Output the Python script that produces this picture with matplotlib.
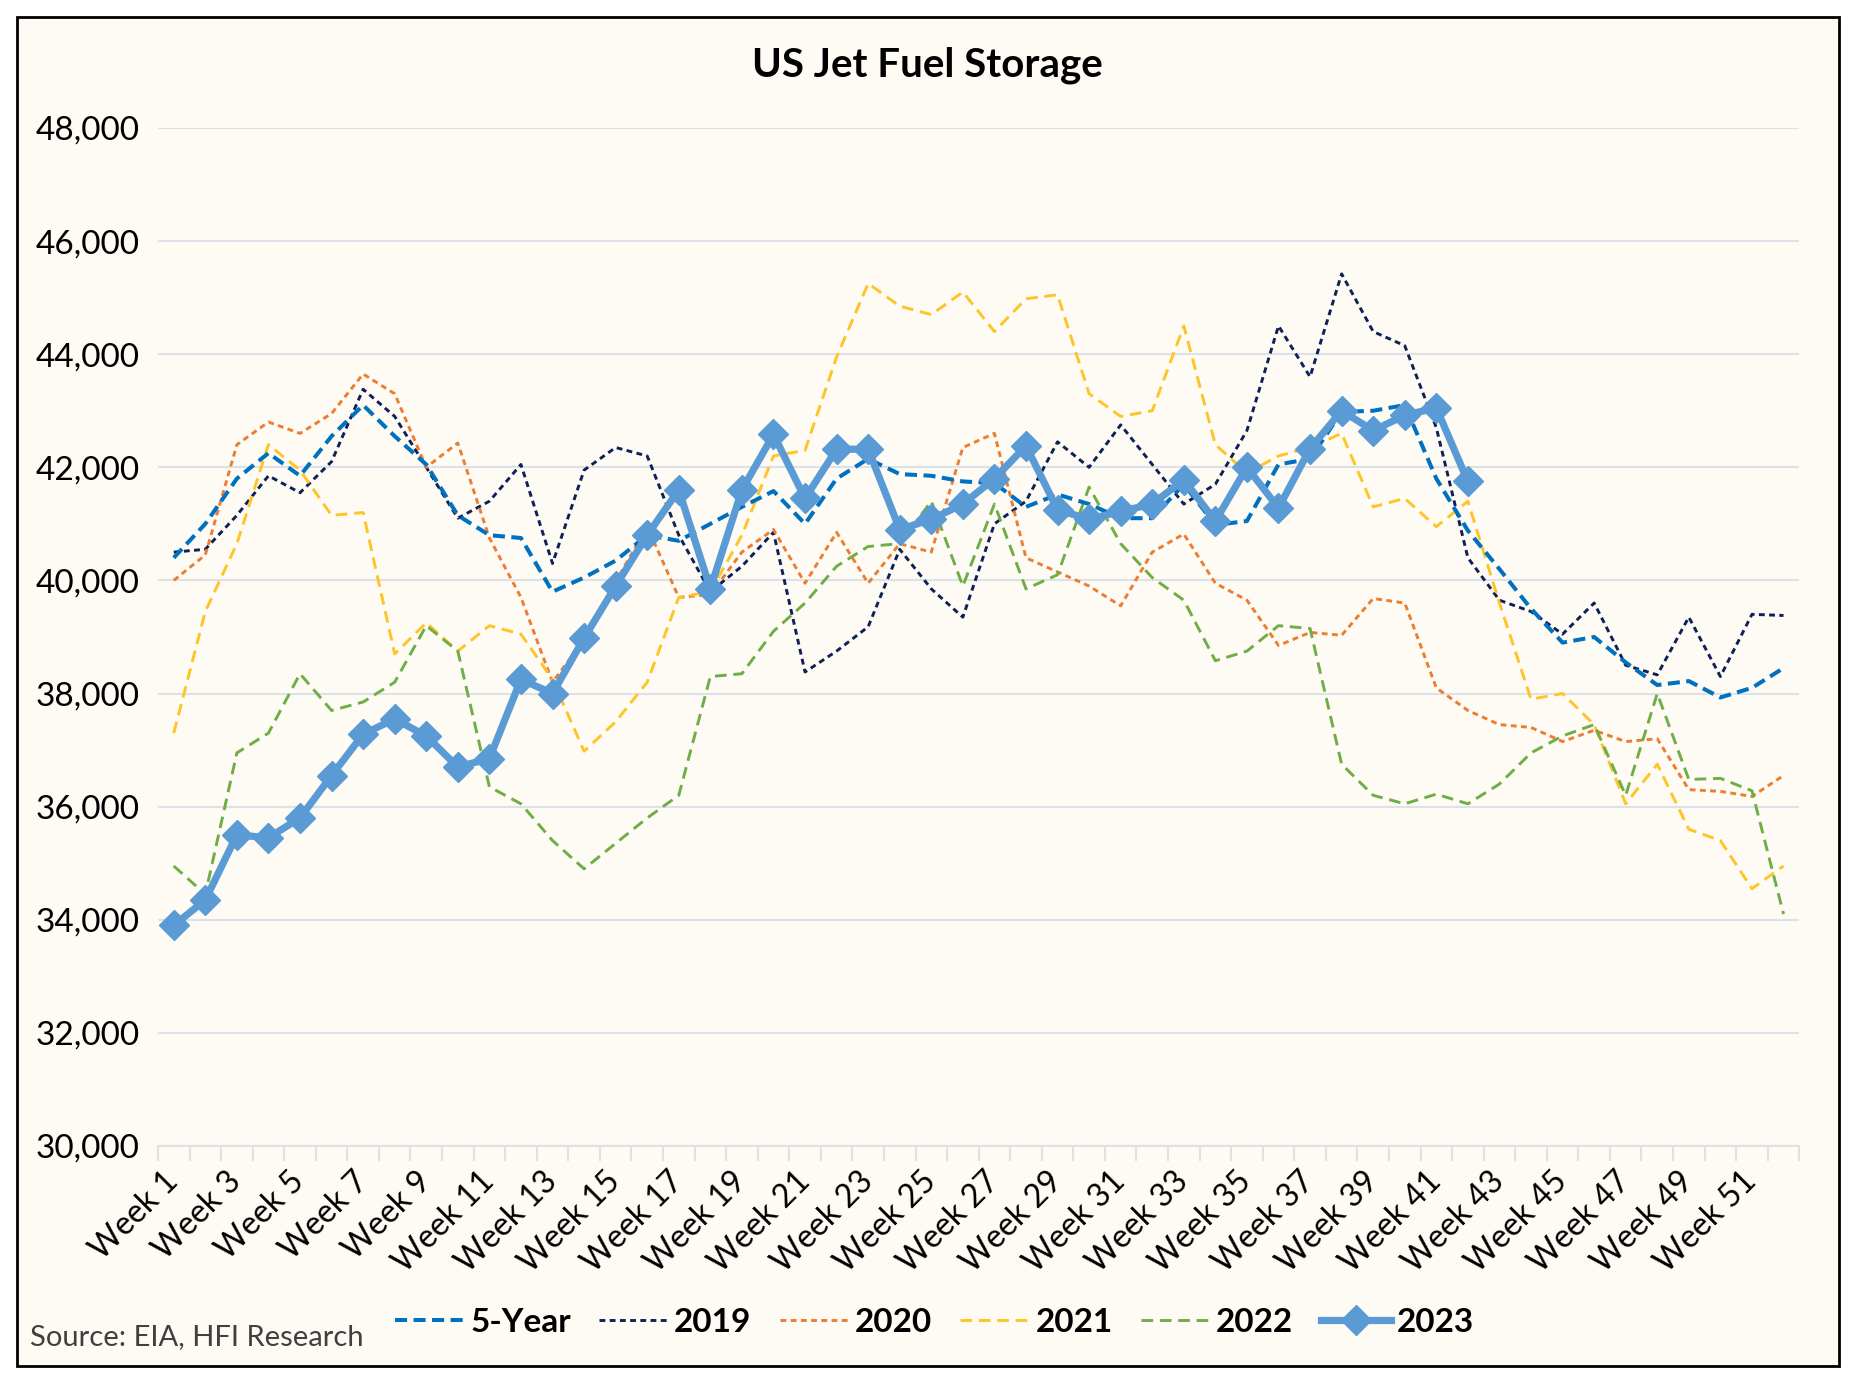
import matplotlib
matplotlib.use("Agg")
import matplotlib.pyplot as plt
from matplotlib.patches import Rectangle
from matplotlib.ticker import FuncFormatter

plt.rcParams['font.family'] = ['Lato', 'DejaVu Sans']

# weekly jet fuel stocks, thousand barrels
weeks = list(range(1, 53))

five_year = [40400, 41000, 41800, 42250, 41850, 42550, 43100, 42550, 42050, 41150,
             40800, 40750, 39800, 40050, 40350, 40800, 40700, 41000, 41300, 41580,
             41000, 41800, 42150, 41880, 41850, 41750, 41720, 41300, 41520, 41350,
             41100, 41100, 41700, 40980, 41050, 42050, 42150, 42980, 43000, 43100,
             41800, 40880, 40200, 39500, 38900, 39000, 38550, 38150, 38220, 37930,
             38100, 38450]

y2019 = [40500, 40550, 41150, 41850, 41550, 42100, 43380, 42900, 42000, 41100,
         41400, 42050, 40300, 41950, 42350, 42200, 40800, 39800, 40250, 40850,
         38380, 38750, 39180, 40550, 39850, 39350, 41000, 41400, 42450, 42000,
         42750, 42050, 41350, 41700, 42650, 44500, 43600, 45420, 44400, 44150,
         42700, 40400, 39650, 39450, 39050, 39600, 38500, 38330, 39350, 38300,
         39400, 39380]

y2020 = [40000, 40450, 42400, 42800, 42600, 42950, 43650, 43300, 42000, 42430,
         40750, 39700, 38200, 38950, 39980, 40950, 39700, 39750, 40500, 40900,
         39950, 40850, 39950, 40650, 40500, 42350, 42600, 40400, 40150, 39900,
         39550, 40500, 40820, 39950, 39650, 38850, 39080, 39030, 39680, 39600,
         38100, 37700, 37450, 37400, 37150, 37350, 37150, 37200, 36300, 36270,
         36180, 36550]

y2021 = [37300, 39450, 40650, 42400, 41950, 41150, 41200, 38700, 39250, 38750,
         39200, 39050, 38250, 36980, 37500, 38200, 39700, 39800, 40800, 42200,
         42300, 43950, 45250, 44850, 44700, 45100, 44400, 44980, 45050, 43300,
         42900, 43000, 44500, 42400, 41900, 42200, 42350, 42600, 41300, 41450,
         40950, 41400, 39600, 37900, 38000, 37450, 36050, 36750, 35600, 35400,
         34550, 34950]

y2022 = [34950, 34450, 36950, 37300, 38350, 37700, 37850, 38200, 39200, 38750,
         36350, 36050, 35400, 34900, 35350, 35800, 36200, 38300, 38350, 39100,
         39600, 40250, 40600, 40650, 41400, 39900, 41350, 39850, 40100, 41650,
         40650, 40050, 39650, 38580, 38750, 39200, 39150, 36750, 36200, 36050,
         36220, 36050, 36400, 36950, 37250, 37450, 36200, 38000, 36480, 36500,
         36280, 34100]

y2023 = [33900, 34350, 35500, 35450, 35800, 36550, 37280, 37550, 37250, 36700,
         36850, 38250, 38000, 38980, 39900, 40800, 41600, 39850, 41600, 42580,
         41450, 42320, 42320, 40900, 41080, 41350, 41800, 42380, 41250, 41080,
         41220, 41350, 41780, 41050, 42000, 41280, 42330, 43000, 42650, 42920,
         43050, 41750]

week_labels = ["Week %d" % w for w in weeks[::2]]

cream = '#FDFBF3'
grid_col = '#DDE1E8'

fig = plt.figure(figsize=(18.54, 13.82), dpi=100, facecolor='white')
frame = Rectangle((17 / 1854, 1 - 1366 / 1382), (1839 - 17) / 1854, (1366 - 17) / 1382,
                  transform=fig.transFigure, facecolor=cream, edgecolor='black',
                  linewidth=2.0, zorder=-10)
fig.patches.append(frame)

ax = fig.add_axes([0.0852, 0.1708, 0.9705 - 0.0852, 0.9074 - 0.1708])
ax.set_facecolor(cream)

ax.plot(weeks, y2019, color='#0E2057', lw=2.1, dashes=(2.0, 1.5), label='2019')
ax.plot(weeks, y2020, color='#ED7D31', lw=2.1, dashes=(2.0, 1.5), label='2020')
ax.plot(weeks, y2021, color='#FFC428', lw=2.1, dashes=(4.0, 2.3), label='2021')
ax.plot(weeks, y2022, color='#70AD47', lw=2.1, dashes=(4.0, 2.3), label='2022')
ax.plot(weeks, five_year, color='#0070C0', lw=2.9, dashes=(3.0, 1.6), label='5-Year')
ax.plot(weeks[:len(y2023)], y2023, color='#5B9BD5', lw=5.2, marker='D', markersize=15,
        label='2023')

ax.set_xlim(0.5, 52.5)
ax.set_ylim(30000, 48000)
ax.set_yticks(range(30000, 48001, 2000))
ax.yaxis.set_major_formatter(FuncFormatter(lambda v, p: "{:,}".format(int(v))))
ax.grid(axis='y', color=grid_col, lw=1.5)
ax.set_axisbelow(True)

ax.set_xticks(weeks[::2])
ax.set_xticklabels(week_labels, rotation=45, ha='right', va='center', rotation_mode='anchor')
ax.set_xticks([w + 0.5 for w in range(0, 53)], minor=True)
ax.tick_params(axis='x', which='major', length=0, pad=22, labelsize=23)
ax.tick_params(axis='x', which='minor', length=11, width=1.5, color=grid_col)
ax.tick_params(axis='y', length=0, pad=13, labelsize=24)

for s in ['top', 'right', 'left']:
    ax.spines[s].set_visible(False)
ax.spines['bottom'].set_color(grid_col)
ax.spines['bottom'].set_linewidth(1.5)

fig.text(0.5, 0.953, "US Jet Fuel Storage", ha='center', va='center', fontsize=29,
         fontweight='bold')

handles, labels = ax.get_legend_handles_labels()
order = [4, 0, 1, 2, 3, 5]
fig.legend([handles[i] for i in order], [labels[i] for i in order], ncol=6,
           loc='center', bbox_to_anchor=(0.504, 0.0434), frameon=False,
           prop={'size': 24, 'weight': 'bold'}, handlelength=2.1, columnspacing=0.85,
           handletextpad=0.15)

fig.text(30 / 1854, 0.0326, "Source: EIA, HFI Research", ha='left', va='center',
         fontsize=21, color='#404040')

fig.savefig("out.png", dpi=100, facecolor='white')
